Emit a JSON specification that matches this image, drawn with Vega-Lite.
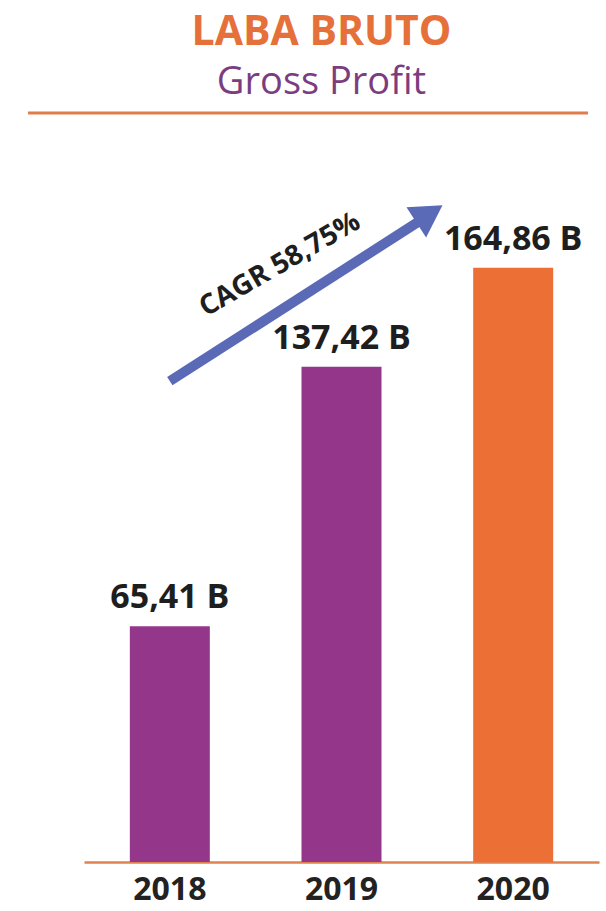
{
  "$schema": "https://vega.github.io/schema/vega-lite/v6.json",
  "width": 515,
  "height": 757,
  "autosize": {"type": "none"},
  "padding": {"left": 84, "right": 7, "top": 105, "bottom": 49},
  "background": "white",
  "title": {
    "text": "LABA BRUTO",
    "subtitle": "Gross Profit",
    "anchor": "middle",
    "dx": -20,
    "offset": 2,
    "font": "Open Sans",
    "fontSize": 41,
    "fontWeight": "bold",
    "color": "#e5703a",
    "subtitleFont": "Open Sans",
    "subtitleFontSize": 38,
    "subtitleFontWeight": "normal",
    "subtitleColor": "#7b3d7f",
    "subtitlePadding": 10
  },
  "config": {"view": {"stroke": null}},
  "resolve": {"scale": {"x": "independent"}, "axis": {"x": "independent"}},
  "layer": [
    {
      "data": {"values": [
        {"year": "2018", "value": 65.41, "label": "65,41 B"},
        {"year": "2019", "value": 137.42, "label": "137,42 B"},
        {"year": "2020", "value": 164.86, "label": "164,86 B"}
      ]},
      "encoding": {
        "x": {
          "field": "year", "type": "nominal", "sort": null,
          "scale": {"paddingInner": 0.534, "paddingOuter": 0.267},
          "axis": {
            "title": null, "ticks": false, "grid": false,
            "domainColor": "#e0824f", "domainWidth": 2.5,
            "labelFont": "Open Sans", "labelFontWeight": "bold", "labelFontSize": 32,
            "labelColor": "#222222", "labelPadding": 12, "labelAngle": 0
          }
        },
        "y": {"field": "value", "type": "quantitative", "scale": {"domain": [0, 210], "nice": false}, "axis": null}
      },
      "layer": [
        {
          "mark": {"type": "bar"},
          "encoding": {
            "color": {
              "field": "year", "type": "nominal",
              "scale": {"domain": ["2018", "2019", "2020"], "range": ["#94378a", "#94378a", "#ec6f36"]},
              "legend": null
            }
          }
        },
        {
          "mark": {"type": "text", "font": "Open Sans", "fontWeight": "bold", "fontSize": 34, "color": "#1e1e1e", "baseline": "alphabetic", "dy": -18},
          "encoding": {"text": {"field": "label"}}
        }
      ]
    },
    {
      "encoding": {},
      "layer": [
        {
          "data": {"values": [{"x": -0.826, "x2": 2.436, "y": 207.8}]},
          "mark": {"type": "rule", "color": "#df7d4b", "strokeWidth": 3},
          "encoding": {
            "x": {"field": "x", "type": "quantitative", "scale": {"domain": [-0.5, 2.5], "nice": false, "zero": false}, "axis": null},
            "x2": {"field": "x2"},
            "y": {"field": "y", "type": "quantitative", "scale": {"domain": [0, 210], "nice": false}, "axis": null}
          }
        },
        {
          "data": {"values": [{"x": 0, "x2": 1.455, "y": 133.4, "y2": 177.8}]},
          "mark": {"type": "rule", "color": "#5a6ab6", "strokeWidth": 10, "strokeCap": "butt"},
          "encoding": {
            "x": {"field": "x", "type": "quantitative", "scale": {"domain": [-0.5, 2.5], "nice": false, "zero": false}, "axis": null},
            "x2": {"field": "x2"},
            "y": {"field": "y", "type": "quantitative", "scale": {"domain": [0, 210], "nice": false}, "axis": null},
            "y2": {"field": "y2"}
          }
        },
        {
          "data": {"values": [{"x": 1.512, "y": 179.8}]},
          "mark": {"type": "point", "shape": "triangle-right", "filled": true, "size": 1300, "angle": -33, "color": "#5a6ab6", "opacity": 1},
          "encoding": {
            "x": {"field": "x", "type": "quantitative", "scale": {"domain": [-0.5, 2.5], "nice": false, "zero": false}, "axis": null},
            "y": {"field": "y", "type": "quantitative", "scale": {"domain": [0, 210], "nice": false}, "axis": null}
          }
        },
        {
          "data": {"values": [{"x": 0.642, "y": 165.6, "text": "CAGR 58,75%"}]},
          "mark": {"type": "text", "font": "Open Sans", "fontWeight": "bold", "fontSize": 28, "color": "#1e1e1e", "angle": -30, "align": "center", "baseline": "middle"},
          "encoding": {
            "x": {"field": "x", "type": "quantitative", "scale": {"domain": [-0.5, 2.5], "nice": false, "zero": false}, "axis": null},
            "y": {"field": "y", "type": "quantitative", "scale": {"domain": [0, 210], "nice": false}, "axis": null},
            "text": {"field": "text"}
          }
        }
      ]
    }
  ]
}
